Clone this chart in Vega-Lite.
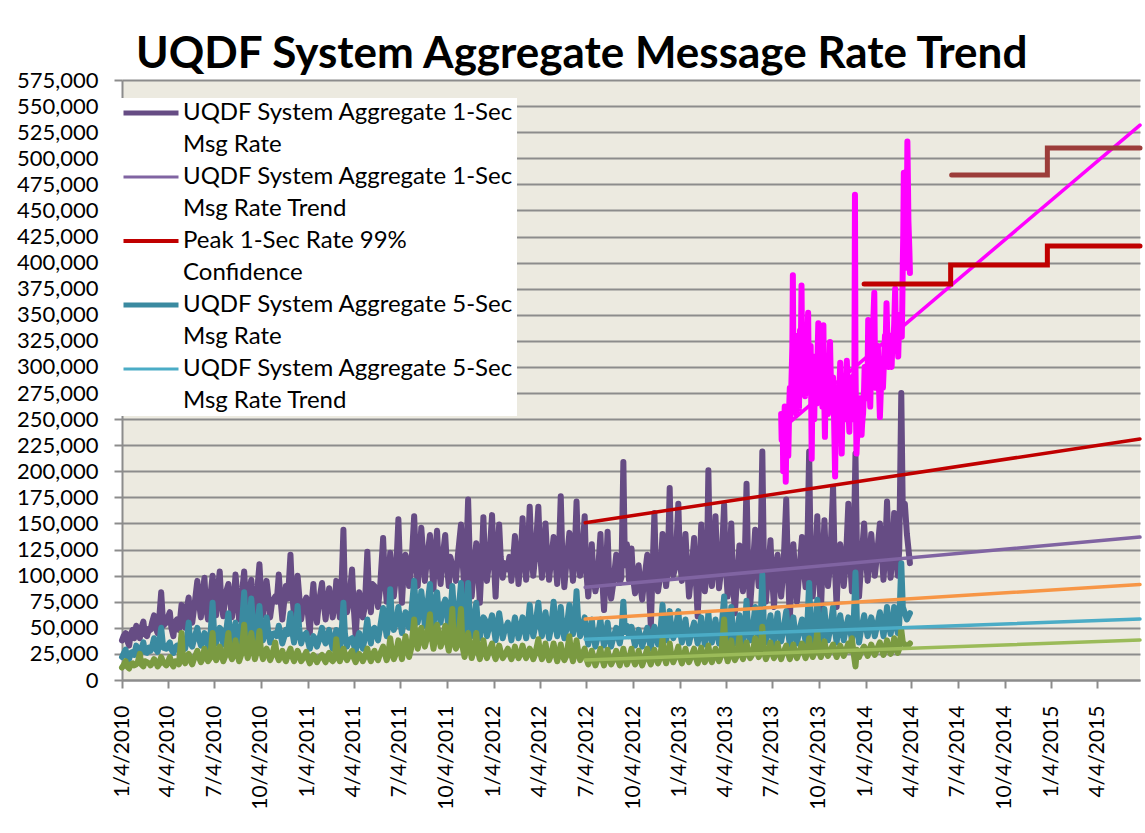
{
"$schema": "https://vega.github.io/schema/vega-lite/v6.json",
"width": 1018, "height": 600,
"autosize": "none",
"padding": {"left": 122, "top": 80, "right": 5, "bottom": 153},
"background": "white",
"config": {"font": "Lato", "view": {"fill": "#ECEAE0", "stroke": null}},
"title": {"text": "UQDF System Aggregate Message Rate Trend", "font": "Lato", "fontSize": 44, "fontWeight": "bold", "color": "black", "anchor": "start", "frame": "group", "dx": 14, "dy": 43, "baseline": "alphabetic", "offset": 0},
"datasets": {
"wide": [
{"d":"2010-01-04","A":38000,"C":22000,"E":12000},{"d":"2010-01-11","A":45000,"C":29000,"E":18000},{"d":"2010-01-18","A":33000,"C":20000,"E":11000},{"d":"2010-01-25","A":48000,"C":27000,"E":16000},
{"d":"2010-02-01","A":52000,"C":33000,"E":15000},{"d":"2010-02-08","A":40000,"C":24000,"E":25000},{"d":"2010-02-15","A":56000,"C":36000,"E":13000},{"d":"2010-02-22","A":42000,"C":26000,"E":17000},
{"d":"2010-03-01","A":48000,"C":28000,"E":14000},{"d":"2010-03-08","A":62000,"C":40000,"E":20000},{"d":"2010-03-15","A":45000,"C":27000,"E":13000},{"d":"2010-03-22","A":84000,"C":50000,"E":22000},
{"d":"2010-04-01","A":55000,"C":30000,"E":14000},{"d":"2010-04-08","A":65000,"C":36000,"E":22000},{"d":"2010-04-15","A":42000,"C":26000,"E":13000},{"d":"2010-04-22","A":58000,"C":33000,"E":18000},
{"d":"2010-05-01","A":72000,"C":40000,"E":45000},{"d":"2010-05-08","A":50000,"C":30000,"E":16000},{"d":"2010-05-15","A":79000,"C":55000,"E":25000},{"d":"2010-05-22","A":55000,"C":32000,"E":15000},
{"d":"2010-06-01","A":95000,"C":50000,"E":28000},{"d":"2010-06-08","A":60000,"C":33000,"E":17000},{"d":"2010-06-15","A":98000,"C":45000,"E":30000},{"d":"2010-06-22","A":58000,"C":30000,"E":18000},
{"d":"2010-07-01","A":100000,"C":74000,"E":45000},{"d":"2010-07-08","A":62000,"C":35000,"E":19000},{"d":"2010-07-15","A":104000,"C":50000,"E":32000},{"d":"2010-07-22","A":61000,"C":34000,"E":18000},
{"d":"2010-08-01","A":92000,"C":64000,"E":45000},{"d":"2010-08-08","A":60000,"C":32000,"E":20000},{"d":"2010-08-15","A":101000,"C":55000,"E":38000},{"d":"2010-08-22","A":58000,"C":35000,"E":18000},
{"d":"2010-09-01","A":104000,"C":84000,"E":53000},{"d":"2010-09-08","A":58000,"C":40000,"E":21000},{"d":"2010-09-15","A":96000,"C":78000,"E":45000},{"d":"2010-09-22","A":62000,"C":38000,"E":20000},
{"d":"2010-10-01","A":111000,"C":71000,"E":47000},{"d":"2010-10-08","A":62000,"C":38000,"E":20000},{"d":"2010-10-15","A":95000,"C":60000,"E":30000},{"d":"2010-10-22","A":60000,"C":36000,"E":19000},
{"d":"2010-11-01","A":80000,"C":45000,"E":36000},{"d":"2010-11-08","A":101000,"C":52000,"E":19000},{"d":"2010-11-15","A":58000,"C":35000,"E":28000},{"d":"2010-11-22","A":90000,"C":48000,"E":18000},
{"d":"2010-12-01","A":120000,"C":64000,"E":30000},{"d":"2010-12-08","A":62000,"C":36000,"E":18000},{"d":"2010-12-15","A":100000,"C":71000,"E":28000},{"d":"2010-12-22","A":58000,"C":35000,"E":18000},
{"d":"2011-01-01","A":79000,"C":45000,"E":27000},{"d":"2011-01-08","A":45000,"C":30000,"E":16000},{"d":"2011-01-15","A":92000,"C":42000,"E":24000},{"d":"2011-01-22","A":55000,"C":32000,"E":17000},
{"d":"2011-02-01","A":93000,"C":50000,"E":24000},{"d":"2011-02-08","A":58000,"C":35000,"E":17000},{"d":"2011-02-15","A":88000,"C":48000,"E":26000},{"d":"2011-02-22","A":60000,"C":30000,"E":18000},
{"d":"2011-03-01","A":95000,"C":48000,"E":39000},{"d":"2011-03-08","A":60000,"C":30000,"E":18000},{"d":"2011-03-15","A":144000,"C":74000,"E":30000},{"d":"2011-03-22","A":65000,"C":32000,"E":19000},
{"d":"2011-04-01","A":106000,"C":40000,"E":28000},{"d":"2011-04-08","A":42000,"C":26000,"E":17000},{"d":"2011-04-15","A":84000,"C":45000,"E":25000},{"d":"2011-04-22","A":60000,"C":30000,"E":18000},
{"d":"2011-05-01","A":123000,"C":58000,"E":30000},{"d":"2011-05-08","A":65000,"C":35000,"E":18000},{"d":"2011-05-15","A":90000,"C":50000,"E":28000},{"d":"2011-05-22","A":70000,"C":38000,"E":19000},
{"d":"2011-06-01","A":136000,"C":69000,"E":32000},{"d":"2011-06-08","A":75000,"C":42000,"E":19000},{"d":"2011-06-15","A":122000,"C":87000,"E":40000},{"d":"2011-06-22","A":80000,"C":48000,"E":20000},
{"d":"2011-07-01","A":154000,"C":70000,"E":38000},{"d":"2011-07-08","A":74000,"C":45000,"E":20000},{"d":"2011-07-15","A":120000,"C":65000,"E":42000},{"d":"2011-07-22","A":90000,"C":50000,"E":22000},
{"d":"2011-08-01","A":157000,"C":95000,"E":58000},{"d":"2011-08-08","A":90000,"C":55000,"E":30000},{"d":"2011-08-15","A":146000,"C":85000,"E":50000},{"d":"2011-08-22","A":95000,"C":52000,"E":32000},
{"d":"2011-09-01","A":139000,"C":92000,"E":63000},{"d":"2011-09-08","A":87000,"C":50000,"E":30000},{"d":"2011-09-15","A":143000,"C":84000,"E":53000},{"d":"2011-09-22","A":92000,"C":55000,"E":32000},
{"d":"2011-10-01","A":139000,"C":77000,"E":52000},{"d":"2011-10-08","A":90000,"C":48000,"E":28000},{"d":"2011-10-15","A":110000,"C":90000,"E":68000},{"d":"2011-10-22","A":95000,"C":52000,"E":30000},
{"d":"2011-11-01","A":149000,"C":93000,"E":68000},{"d":"2011-11-08","A":85000,"C":45000,"E":22000},{"d":"2011-11-15","A":173000,"C":93000,"E":45000},{"d":"2011-11-22","A":80000,"C":42000,"E":21000},
{"d":"2011-12-01","A":131000,"C":74000,"E":45000},{"d":"2011-12-08","A":74000,"C":40000,"E":20000},{"d":"2011-12-15","A":156000,"C":60000,"E":38000},{"d":"2011-12-22","A":95000,"C":42000,"E":21000},
{"d":"2012-01-01","A":158000,"C":62000,"E":35000},{"d":"2012-01-08","A":80000,"C":38000,"E":20000},{"d":"2012-01-15","A":149000,"C":64000,"E":33000},{"d":"2012-01-22","A":98000,"C":40000,"E":21000},
{"d":"2012-02-01","A":106000,"C":55000,"E":30000},{"d":"2012-02-08","A":95000,"C":38000,"E":20000},{"d":"2012-02-15","A":138000,"C":60000,"E":32000},{"d":"2012-02-22","A":92000,"C":40000,"E":21000},
{"d":"2012-03-01","A":155000,"C":60000,"E":33000},{"d":"2012-03-08","A":96000,"C":40000,"E":21000},{"d":"2012-03-15","A":166000,"C":72000,"E":30000},{"d":"2012-03-22","A":100000,"C":42000,"E":20000},
{"d":"2012-04-01","A":166000,"C":74000,"E":39000},{"d":"2012-04-08","A":98000,"C":42000,"E":20000},{"d":"2012-04-15","A":150000,"C":65000,"E":35000},{"d":"2012-04-22","A":96000,"C":40000,"E":19000},
{"d":"2012-05-01","A":137000,"C":75000,"E":35000},{"d":"2012-05-08","A":92000,"C":42000,"E":18000},{"d":"2012-05-15","A":176000,"C":70000,"E":34000},{"d":"2012-05-22","A":89000,"C":40000,"E":19000},
{"d":"2012-06-01","A":141000,"C":72000,"E":42000},{"d":"2012-06-08","A":95000,"C":44000,"E":18000},{"d":"2012-06-15","A":171000,"C":85000,"E":38000},{"d":"2012-06-22","A":100000,"C":42000,"E":19000},
{"d":"2012-07-01","A":157000,"C":60000,"E":30000},{"d":"2012-07-08","A":80000,"C":34000,"E":15000},{"d":"2012-07-15","A":130000,"C":58000,"E":28000},{"d":"2012-07-22","A":85000,"C":32000,"E":14000},
{"d":"2012-08-01","A":140000,"C":58000,"E":30000},{"d":"2012-08-08","A":67000,"C":33000,"E":14000},{"d":"2012-08-15","A":142000,"C":55000,"E":29000},{"d":"2012-08-22","A":78000,"C":32000,"E":15000},
{"d":"2012-09-01","A":120000,"C":50000,"E":28000},{"d":"2012-09-08","A":93000,"C":35000,"E":14000},{"d":"2012-09-15","A":209000,"C":75000,"E":30000},{"d":"2012-09-22","A":130000,"C":52000,"E":15000},
{"d":"2012-10-01","A":126000,"C":51000,"E":30000},{"d":"2012-10-08","A":83000,"C":33000,"E":15000},{"d":"2012-10-15","A":110000,"C":48000,"E":28000},{"d":"2012-10-22","A":77000,"C":32000,"E":14000},
{"d":"2012-11-01","A":120000,"C":50000,"E":30000},{"d":"2012-11-08","A":51000,"C":30000,"E":15000},{"d":"2012-11-15","A":160000,"C":51000,"E":29000},{"d":"2012-11-22","A":85000,"C":34000,"E":16000},
{"d":"2012-12-01","A":140000,"C":72000,"E":40000},{"d":"2012-12-08","A":90000,"C":38000,"E":16000},{"d":"2012-12-15","A":184000,"C":66000,"E":35000},{"d":"2012-12-22","A":100000,"C":40000,"E":17000},
{"d":"2013-01-01","A":169000,"C":66000,"E":32000},{"d":"2013-01-08","A":95000,"C":36000,"E":16000},{"d":"2013-01-15","A":140000,"C":58000,"E":30000},{"d":"2013-01-22","A":80000,"C":35000,"E":17000},
{"d":"2013-02-01","A":136000,"C":55000,"E":30000},{"d":"2013-02-08","A":61000,"C":35000,"E":16000},{"d":"2013-02-15","A":149000,"C":60000,"E":31000},{"d":"2013-02-22","A":85000,"C":34000,"E":17000},
{"d":"2013-03-01","A":201000,"C":64000,"E":33000},{"d":"2013-03-08","A":90000,"C":36000,"E":17000},{"d":"2013-03-15","A":157000,"C":58000,"E":30000},{"d":"2013-03-22","A":88000,"C":35000,"E":18000},
{"d":"2013-04-01","A":168000,"C":80000,"E":58000},{"d":"2013-04-08","A":80000,"C":38000,"E":18000},{"d":"2013-04-15","A":150000,"C":70000,"E":38000},{"d":"2013-04-22","A":64000,"C":35000,"E":19000},
{"d":"2013-05-01","A":129000,"C":62000,"E":42000},{"d":"2013-05-08","A":85000,"C":36000,"E":20000},{"d":"2013-05-15","A":188000,"C":76000,"E":36000},{"d":"2013-05-22","A":70000,"C":38000,"E":21000},
{"d":"2013-06-01","A":144000,"C":70000,"E":40000},{"d":"2013-06-08","A":90000,"C":38000,"E":22000},{"d":"2013-06-15","A":219000,"C":101000,"E":51000},{"d":"2013-06-22","A":75000,"C":36000,"E":20000},
{"d":"2013-07-01","A":134000,"C":62000,"E":36000},{"d":"2013-07-08","A":70000,"C":35000,"E":21000},{"d":"2013-07-15","A":120000,"C":64000,"E":35000},{"d":"2013-07-22","A":80000,"C":37000,"E":20000},
{"d":"2013-08-01","A":173000,"C":66000,"E":33000},{"d":"2013-08-08","A":58000,"C":34000,"E":20000},{"d":"2013-08-15","A":130000,"C":60000,"E":34000},{"d":"2013-08-22","A":75000,"C":35000,"E":21000},
{"d":"2013-09-01","A":137000,"C":58000,"E":35000},{"d":"2013-09-08","A":89000,"C":37000,"E":21000},{"d":"2013-09-15","A":219000,"C":93000,"E":40000},{"d":"2013-09-22","A":80000,"C":36000,"E":22000},
{"d":"2013-10-01","A":157000,"C":77000,"E":46000},{"d":"2013-10-08","A":64000,"C":35000,"E":22000},{"d":"2013-10-15","A":153000,"C":68000,"E":37000},{"d":"2013-10-22","A":90000,"C":38000,"E":23000},
{"d":"2013-11-01","A":185000,"C":70000,"E":34000},{"d":"2013-11-08","A":70000,"C":36000,"E":22000},{"d":"2013-11-15","A":130000,"C":62000,"E":33000},{"d":"2013-11-22","A":90000,"C":38000,"E":23000},
{"d":"2013-12-01","A":169000,"C":60000,"E":35000},{"d":"2013-12-08","A":85000,"C":38000,"E":40000},{"d":"2013-12-15","A":217000,"C":103000,"E":13000},{"d":"2013-12-22","A":80000,"C":36000,"E":22000},
{"d":"2014-01-01","A":150000,"C":62000,"E":32000},{"d":"2014-01-08","A":95000,"C":42000,"E":23000},{"d":"2014-01-15","A":140000,"C":60000,"E":34000},{"d":"2014-01-22","A":100000,"C":42000,"E":24000},
{"d":"2014-02-01","A":150000,"C":65000,"E":36000},{"d":"2014-02-08","A":96000,"C":42000,"E":24000},{"d":"2014-02-15","A":171000,"C":70000,"E":38000},{"d":"2014-02-22","A":98000,"C":44000,"E":25000},
{"d":"2014-03-01","A":160000,"C":70000,"E":40000},{"d":"2014-03-08","A":100000,"C":45000,"E":26000},{"d":"2014-03-15","A":275000,"C":112000,"E":48000},{"d":"2014-03-22","A":169000,"C":64000,"E":34000},
{"d":"2014-04-01","A":112000,"C":64000,"E":35000},
{"d":"2010-01-07","A":42000,"C":25000,"E":14000},{"d":"2010-01-14","A":38000,"C":23000,"E":13000},{"d":"2010-01-21","A":44000,"C":26000,"E":15000},{"d":"2010-01-28","A":40000,"C":24000,"E":14000},
{"d":"2010-02-04","A":46000,"C":28000,"E":17000},{"d":"2010-02-11","A":50000,"C":30000,"E":15000},{"d":"2010-02-18","A":44000,"C":27000,"E":18000},{"d":"2010-02-26","A":49000,"C":31000,"E":16000},
{"d":"2010-03-04","A":55000,"C":32000,"E":16000},{"d":"2010-03-11","A":50000,"C":30000,"E":18000},{"d":"2010-03-18","A":58000,"C":35000,"E":15000},{"d":"2010-03-26","A":52000,"C":31000,"E":17000},
{"d":"2010-04-04","A":60000,"C":33000,"E":17000},{"d":"2010-04-11","A":50000,"C":29000,"E":16000},{"d":"2010-04-18","A":55000,"C":31000,"E":18000},{"d":"2010-04-26","A":48000,"C":28000,"E":15000},
{"d":"2010-05-04","A":62000,"C":35000,"E":20000},{"d":"2010-05-11","A":68000,"C":38000,"E":22000},{"d":"2010-05-18","A":60000,"C":36000,"E":19000},{"d":"2010-05-26","A":70000,"C":40000,"E":21000},
{"d":"2010-06-04","A":75000,"C":40000,"E":22000},{"d":"2010-06-11","A":82000,"C":38000,"E":20000},{"d":"2010-06-18","A":70000,"C":42000,"E":23000},{"d":"2010-06-26","A":78000,"C":37000,"E":21000},
{"d":"2010-07-04","A":80000,"C":45000,"E":24000},{"d":"2010-07-11","A":85000,"C":42000,"E":22000},{"d":"2010-07-18","A":75000,"C":48000,"E":26000},{"d":"2010-07-26","A":82000,"C":40000,"E":23000},
{"d":"2010-08-04","A":78000,"C":45000,"E":25000},{"d":"2010-08-11","A":72000,"C":40000,"E":23000},{"d":"2010-08-18","A":84000,"C":48000,"E":28000},{"d":"2010-08-26","A":75000,"C":42000,"E":24000},
{"d":"2010-09-04","A":80000,"C":55000,"E":30000},{"d":"2010-09-11","A":85000,"C":50000,"E":28000},{"d":"2010-09-18","A":75000,"C":58000,"E":32000},{"d":"2010-09-26","A":82000,"C":48000,"E":27000},
{"d":"2010-10-04","A":85000,"C":50000,"E":28000},{"d":"2010-10-11","A":78000,"C":45000,"E":26000},{"d":"2010-10-18","A":82000,"C":48000,"E":25000},{"d":"2010-10-26","A":75000,"C":44000,"E":24000},
{"d":"2010-11-04","A":75000,"C":42000,"E":24000},{"d":"2010-11-11","A":80000,"C":45000,"E":23000},{"d":"2010-11-18","A":72000,"C":40000,"E":22000},{"d":"2010-11-26","A":78000,"C":44000,"E":24000},
{"d":"2010-12-04","A":85000,"C":48000,"E":23000},{"d":"2010-12-11","A":78000,"C":44000,"E":22000},{"d":"2010-12-18","A":82000,"C":50000,"E":24000},{"d":"2010-12-26","A":72000,"C":42000,"E":21000},
{"d":"2011-01-04","A":65000,"C":38000,"E":21000},{"d":"2011-01-11","A":70000,"C":36000,"E":20000},{"d":"2011-01-18","A":68000,"C":40000,"E":22000},{"d":"2011-01-26","A":75000,"C":38000,"E":21000},
{"d":"2011-02-04","A":75000,"C":40000,"E":21000},{"d":"2011-02-11","A":72000,"C":42000,"E":22000},{"d":"2011-02-18","A":78000,"C":38000,"E":20000},{"d":"2011-02-26","A":74000,"C":40000,"E":21000},
{"d":"2011-03-04","A":78000,"C":40000,"E":24000},{"d":"2011-03-11","A":85000,"C":42000,"E":22000},{"d":"2011-03-18","A":80000,"C":44000,"E":25000},{"d":"2011-03-26","A":76000,"C":38000,"E":23000},
{"d":"2011-04-04","A":72000,"C":35000,"E":22000},{"d":"2011-04-11","A":65000,"C":38000,"E":21000},{"d":"2011-04-18","A":75000,"C":36000,"E":23000},{"d":"2011-04-26","A":70000,"C":40000,"E":22000},
{"d":"2011-05-04","A":85000,"C":45000,"E":23000},{"d":"2011-05-11","A":92000,"C":48000,"E":24000},{"d":"2011-05-18","A":82000,"C":44000,"E":22000},{"d":"2011-05-26","A":88000,"C":50000,"E":25000},
{"d":"2011-06-04","A":100000,"C":55000,"E":26000},{"d":"2011-06-11","A":95000,"C":52000,"E":24000},{"d":"2011-06-18","A":105000,"C":60000,"E":28000},{"d":"2011-06-26","A":98000,"C":54000,"E":25000},
{"d":"2011-07-04","A":110000,"C":58000,"E":30000},{"d":"2011-07-11","A":100000,"C":55000,"E":28000},{"d":"2011-07-18","A":115000,"C":60000,"E":32000},{"d":"2011-07-26","A":105000,"C":62000,"E":30000},
{"d":"2011-08-04","A":120000,"C":70000,"E":40000},{"d":"2011-08-11","A":112000,"C":65000,"E":38000},{"d":"2011-08-18","A":125000,"C":72000,"E":42000},{"d":"2011-08-26","A":115000,"C":68000,"E":40000},
{"d":"2011-09-04","A":115000,"C":68000,"E":42000},{"d":"2011-09-11","A":120000,"C":72000,"E":40000},{"d":"2011-09-18","A":110000,"C":65000,"E":45000},{"d":"2011-09-26","A":118000,"C":70000,"E":38000},
{"d":"2011-10-04","A":112000,"C":65000,"E":38000},{"d":"2011-10-11","A":118000,"C":62000,"E":40000},{"d":"2011-10-18","A":108000,"C":68000,"E":36000},{"d":"2011-10-26","A":120000,"C":60000,"E":35000},
{"d":"2011-11-04","A":115000,"C":62000,"E":32000},{"d":"2011-11-11","A":110000,"C":58000,"E":30000},{"d":"2011-11-18","A":120000,"C":64000,"E":34000},{"d":"2011-11-26","A":105000,"C":55000,"E":28000},
{"d":"2011-12-04","A":110000,"C":55000,"E":28000},{"d":"2011-12-11","A":105000,"C":52000,"E":26000},{"d":"2011-12-18","A":115000,"C":58000,"E":29000},{"d":"2011-12-26","A":112000,"C":50000,"E":27000},
{"d":"2012-01-04","A":120000,"C":52000,"E":26000},{"d":"2012-01-11","A":115000,"C":50000,"E":25000},{"d":"2012-01-18","A":118000,"C":54000,"E":27000},{"d":"2012-01-26","A":112000,"C":48000,"E":24000},
{"d":"2012-02-04","A":118000,"C":50000,"E":25000},{"d":"2012-02-11","A":112000,"C":48000,"E":24000},{"d":"2012-02-18","A":120000,"C":52000,"E":26000},{"d":"2012-02-26","A":115000,"C":50000,"E":25000},
{"d":"2012-03-04","A":122000,"C":52000,"E":26000},{"d":"2012-03-11","A":118000,"C":50000,"E":25000},{"d":"2012-03-18","A":125000,"C":55000,"E":27000},{"d":"2012-03-26","A":120000,"C":52000,"E":25000},
{"d":"2012-04-04","A":125000,"C":55000,"E":27000},{"d":"2012-04-11","A":118000,"C":52000,"E":25000},{"d":"2012-04-18","A":122000,"C":54000,"E":26000},{"d":"2012-04-26","A":115000,"C":50000,"E":24000},
{"d":"2012-05-04","A":118000,"C":55000,"E":26000},{"d":"2012-05-11","A":115000,"C":50000,"E":24000},{"d":"2012-05-18","A":120000,"C":52000,"E":25000},{"d":"2012-05-26","A":112000,"C":48000,"E":23000},
{"d":"2012-06-04","A":120000,"C":55000,"E":26000},{"d":"2012-06-11","A":115000,"C":52000,"E":25000},{"d":"2012-06-18","A":125000,"C":58000,"E":28000},{"d":"2012-06-26","A":118000,"C":50000,"E":24000},
{"d":"2012-07-04","A":105000,"C":45000,"E":21000},{"d":"2012-07-11","A":98000,"C":42000,"E":20000},{"d":"2012-07-18","A":102000,"C":44000,"E":22000},{"d":"2012-07-26","A":95000,"C":40000,"E":19000},
{"d":"2012-08-04","A":100000,"C":44000,"E":21000},{"d":"2012-08-11","A":95000,"C":40000,"E":20000},{"d":"2012-08-18","A":98000,"C":42000,"E":21000},{"d":"2012-08-26","A":92000,"C":40000,"E":19000},
{"d":"2012-09-04","A":102000,"C":42000,"E":20000},{"d":"2012-09-11","A":98000,"C":44000,"E":21000},{"d":"2012-09-18","A":110000,"C":46000,"E":22000},{"d":"2012-09-26","A":96000,"C":42000,"E":20000},
{"d":"2012-10-04","A":98000,"C":42000,"E":20000},{"d":"2012-10-11","A":95000,"C":40000,"E":19000},{"d":"2012-10-18","A":92000,"C":42000,"E":21000},{"d":"2012-10-26","A":96000,"C":40000,"E":20000},
{"d":"2012-11-04","A":90000,"C":40000,"E":20000},{"d":"2012-11-11","A":100000,"C":42000,"E":21000},{"d":"2012-11-18","A":105000,"C":44000,"E":22000},{"d":"2012-11-26","A":98000,"C":42000,"E":21000},
{"d":"2012-12-04","A":110000,"C":48000,"E":23000},{"d":"2012-12-11","A":105000,"C":45000,"E":22000},{"d":"2012-12-18","A":115000,"C":50000,"E":24000},{"d":"2012-12-26","A":108000,"C":46000,"E":22000},
{"d":"2013-01-04","A":115000,"C":48000,"E":22000},{"d":"2013-01-11","A":108000,"C":45000,"E":21000},{"d":"2013-01-18","A":112000,"C":46000,"E":23000},{"d":"2013-01-26","A":100000,"C":44000,"E":22000},
{"d":"2013-02-04","A":100000,"C":45000,"E":22000},{"d":"2013-02-11","A":95000,"C":44000,"E":21000},{"d":"2013-02-18","A":110000,"C":46000,"E":23000},{"d":"2013-02-26","A":102000,"C":45000,"E":22000},
{"d":"2013-03-04","A":120000,"C":48000,"E":23000},{"d":"2013-03-11","A":110000,"C":45000,"E":22000},{"d":"2013-03-18","A":115000,"C":47000,"E":24000},{"d":"2013-03-26","A":105000,"C":44000,"E":23000},
{"d":"2013-04-04","A":110000,"C":50000,"E":26000},{"d":"2013-04-11","A":105000,"C":46000,"E":24000},{"d":"2013-04-18","A":100000,"C":48000,"E":25000},{"d":"2013-04-26","A":95000,"C":44000,"E":23000},
{"d":"2013-05-04","A":100000,"C":48000,"E":26000},{"d":"2013-05-11","A":105000,"C":46000,"E":25000},{"d":"2013-05-18","A":110000,"C":50000,"E":27000},{"d":"2013-05-26","A":98000,"C":45000,"E":24000},
{"d":"2013-06-04","A":110000,"C":50000,"E":27000},{"d":"2013-06-11","A":105000,"C":48000,"E":26000},{"d":"2013-06-18","A":115000,"C":52000,"E":28000},{"d":"2013-06-26","A":100000,"C":46000,"E":25000},
{"d":"2013-07-04","A":100000,"C":46000,"E":26000},{"d":"2013-07-11","A":105000,"C":48000,"E":25000},{"d":"2013-07-18","A":98000,"C":45000,"E":27000},{"d":"2013-07-26","A":102000,"C":47000,"E":26000},
{"d":"2013-08-04","A":110000,"C":48000,"E":26000},{"d":"2013-08-11","A":95000,"C":45000,"E":25000},{"d":"2013-08-18","A":105000,"C":47000,"E":27000},{"d":"2013-08-26","A":100000,"C":46000,"E":26000},
{"d":"2013-09-04","A":108000,"C":47000,"E":27000},{"d":"2013-09-11","A":112000,"C":48000,"E":26000},{"d":"2013-09-18","A":115000,"C":52000,"E":28000},{"d":"2013-09-26","A":105000,"C":46000,"E":27000},
{"d":"2013-10-04","A":112000,"C":50000,"E":28000},{"d":"2013-10-11","A":105000,"C":47000,"E":27000},{"d":"2013-10-18","A":115000,"C":51000,"E":29000},{"d":"2013-10-26","A":110000,"C":48000,"E":28000},
{"d":"2013-11-04","A":115000,"C":50000,"E":28000},{"d":"2013-11-11","A":110000,"C":48000,"E":27000},{"d":"2013-11-18","A":118000,"C":52000,"E":29000},{"d":"2013-11-26","A":112000,"C":49000,"E":28000},
{"d":"2013-12-04","A":118000,"C":50000,"E":28000},{"d":"2013-12-11","A":112000,"C":48000,"E":27000},{"d":"2013-12-18","A":120000,"C":55000,"E":29000},{"d":"2013-12-26","A":110000,"C":48000,"E":27000},
{"d":"2014-01-04","A":120000,"C":52000,"E":29000},{"d":"2014-01-11","A":115000,"C":50000,"E":28000},{"d":"2014-01-18","A":122000,"C":54000,"E":30000},{"d":"2014-01-26","A":118000,"C":51000,"E":29000},
{"d":"2014-02-04","A":125000,"C":55000,"E":30000},{"d":"2014-02-11","A":118000,"C":52000,"E":29000},{"d":"2014-02-18","A":128000,"C":56000,"E":31000},{"d":"2014-02-26","A":120000,"C":54000,"E":30000},
{"d":"2014-03-04","A":130000,"C":56000,"E":31000},{"d":"2014-03-11","A":125000,"C":54000,"E":30000},{"d":"2014-03-18","A":160000,"C":70000,"E":36000},{"d":"2014-03-26","A":140000,"C":58000,"E":32000}
],
"magenta": [
{"d":"2013-07-22","s":"M","v":255000},{"d":"2013-07-24","s":"M","v":240000},{"d":"2013-07-26","s":"M","v":200000},{"d":"2013-07-29","s":"M","v":262000},{"d":"2013-07-31","s":"M","v":190000},{"d":"2013-08-02","s":"M","v":245000},{"d":"2013-08-05","s":"M","v":215000},{"d":"2013-08-07","s":"M","v":265000},{"d":"2013-08-09","s":"M","v":250000},{"d":"2013-08-12","s":"M","v":300000},{"d":"2013-08-14","s":"M","v":388000},{"d":"2013-08-16","s":"M","v":280000},{"d":"2013-08-19","s":"M","v":330000},{"d":"2013-08-21","s":"M","v":255000},{"d":"2013-08-23","s":"M","v":320000},{"d":"2013-08-26","s":"M","v":260000},{"d":"2013-08-28","s":"M","v":335000},{"d":"2013-08-31","s":"M","v":378000},{"d":"2013-09-03","s":"M","v":290000},{"d":"2013-09-05","s":"M","v":330000},{"d":"2013-09-07","s":"M","v":272000},{"d":"2013-09-10","s":"M","v":300000},{"d":"2013-09-13","s":"M","v":352000},{"d":"2013-09-16","s":"M","v":290000},{"d":"2013-09-18","s":"M","v":320000},{"d":"2013-09-20","s":"M","v":212000},{"d":"2013-09-23","s":"M","v":280000},{"d":"2013-09-25","s":"M","v":250000},{"d":"2013-09-27","s":"M","v":310000},{"d":"2013-09-30","s":"M","v":265000},{"d":"2013-10-03","s":"M","v":342000},{"d":"2013-10-06","s":"M","v":280000},{"d":"2013-10-09","s":"M","v":330000},{"d":"2013-10-11","s":"M","v":262000},{"d":"2013-10-13","s":"M","v":340000},{"d":"2013-10-16","s":"M","v":233000},{"d":"2013-10-19","s":"M","v":300000},{"d":"2013-10-22","s":"M","v":255000},{"d":"2013-10-26","s":"M","v":324000},{"d":"2013-10-29","s":"M","v":270000},{"d":"2013-11-01","s":"M","v":290000},{"d":"2013-11-05","s":"M","v":195000},{"d":"2013-11-08","s":"M","v":280000},{"d":"2013-11-11","s":"M","v":240000},{"d":"2013-11-15","s":"M","v":304000},{"d":"2013-11-18","s":"M","v":217000},{"d":"2013-11-21","s":"M","v":290000},{"d":"2013-11-24","s":"M","v":250000},{"d":"2013-11-28","s":"M","v":306000},{"d":"2013-12-01","s":"M","v":260000},{"d":"2013-12-03","s":"M","v":238000},{"d":"2013-12-06","s":"M","v":290000},{"d":"2013-12-09","s":"M","v":250000},{"d":"2013-12-12","s":"M","v":280000},{"d":"2013-12-14","s":"M","v":465000},{"d":"2013-12-17","s":"M","v":217000},{"d":"2013-12-20","s":"M","v":240000},{"d":"2013-12-24","s":"M","v":270000},{"d":"2013-12-27","s":"M","v":235000},{"d":"2013-12-30","s":"M","v":256000},{"d":"2014-01-02","s":"M","v":300000},{"d":"2014-01-06","s":"M","v":270000},{"d":"2014-01-09","s":"M","v":345000},{"d":"2014-01-13","s":"M","v":262000},{"d":"2014-01-16","s":"M","v":310000},{"d":"2014-01-21","s":"M","v":371000},{"d":"2014-01-24","s":"M","v":280000},{"d":"2014-01-28","s":"M","v":320000},{"d":"2014-02-01","s":"M","v":252000},{"d":"2014-02-04","s":"M","v":300000},{"d":"2014-02-07","s":"M","v":280000},{"d":"2014-02-11","s":"M","v":330000},{"d":"2014-02-14","s":"M","v":361000},{"d":"2014-02-18","s":"M","v":300000},{"d":"2014-02-21","s":"M","v":330000},{"d":"2014-02-24","s":"M","v":300000},{"d":"2014-02-27","s":"M","v":320000},{"d":"2014-03-03","s":"M","v":375000},{"d":"2014-03-06","s":"M","v":320000},{"d":"2014-03-09","s":"M","v":310000},{"d":"2014-03-12","s":"M","v":350000},{"d":"2014-03-16","s":"M","v":329000},{"d":"2014-03-18","s":"M","v":400000},{"d":"2014-03-20","s":"M","v":486000},{"d":"2014-03-23","s":"M","v":420000},{"d":"2014-03-25","s":"M","v":395000},{"d":"2014-03-27","s":"M","v":516000},{"d":"2014-03-29","s":"M","v":440000},{"d":"2014-04-01","s":"M","v":390000},
{"d":"2013-07-23","s":"M","v":230000},{"d":"2013-07-25","s":"M","v":250000},{"d":"2013-07-27","s":"M","v":230000},{"d":"2013-07-30","s":"M","v":240000},{"d":"2013-08-01","s":"M","v":225000},{"d":"2013-08-03","s":"M","v":260000},{"d":"2013-08-06","s":"M","v":240000},{"d":"2013-08-08","s":"M","v":280000},{"d":"2013-08-10","s":"M","v":265000},{"d":"2013-08-13","s":"M","v":320000},{"d":"2013-08-15","s":"M","v":300000},{"d":"2013-08-17","s":"M","v":310000},{"d":"2013-08-20","s":"M","v":290000},{"d":"2013-08-22","s":"M","v":300000},{"d":"2013-08-24","s":"M","v":280000},{"d":"2013-08-27","s":"M","v":300000},{"d":"2013-08-29","s":"M","v":290000},{"d":"2013-09-01","s":"M","v":320000},{"d":"2013-09-04","s":"M","v":310000},{"d":"2013-09-06","s":"M","v":300000},{"d":"2013-09-08","s":"M","v":290000},{"d":"2013-09-11","s":"M","v":320000},{"d":"2013-09-14","s":"M","v":300000},{"d":"2013-09-17","s":"M","v":305000},{"d":"2013-09-19","s":"M","v":270000},{"d":"2013-09-21","s":"M","v":260000},{"d":"2013-09-24","s":"M","v":295000},{"d":"2013-09-26","s":"M","v":280000},{"d":"2013-09-28","s":"M","v":290000},{"d":"2013-10-01","s":"M","v":300000},{"d":"2013-10-04","s":"M","v":300000},{"d":"2013-10-07","s":"M","v":310000},{"d":"2013-10-10","s":"M","v":290000},{"d":"2013-10-12","s":"M","v":300000},{"d":"2013-10-14","s":"M","v":290000},{"d":"2013-10-17","s":"M","v":270000},{"d":"2013-10-20","s":"M","v":280000},{"d":"2013-10-24","s":"M","v":290000},{"d":"2013-10-27","s":"M","v":300000},{"d":"2013-10-31","s":"M","v":280000},{"d":"2013-11-03","s":"M","v":250000},{"d":"2013-11-06","s":"M","v":240000},{"d":"2013-11-09","s":"M","v":260000},{"d":"2013-11-13","s":"M","v":270000},{"d":"2013-11-16","s":"M","v":260000},{"d":"2013-11-19","s":"M","v":250000},{"d":"2013-11-22","s":"M","v":270000},{"d":"2013-11-26","s":"M","v":280000},{"d":"2013-11-30","s":"M","v":275000},{"d":"2013-12-02","s":"M","v":250000},{"d":"2013-12-04","s":"M","v":265000},{"d":"2013-12-07","s":"M","v":270000},{"d":"2013-12-10","s":"M","v":265000},{"d":"2013-12-13","s":"M","v":300000},{"d":"2013-12-15","s":"M","v":300000},{"d":"2013-12-18","s":"M","v":230000},{"d":"2013-12-22","s":"M","v":255000},{"d":"2013-12-26","s":"M","v":250000},{"d":"2013-12-28","s":"M","v":245000},{"d":"2014-01-01","s":"M","v":280000},{"d":"2014-01-04","s":"M","v":290000},{"d":"2014-01-08","s":"M","v":300000},{"d":"2014-01-11","s":"M","v":290000},{"d":"2014-01-14","s":"M","v":285000},{"d":"2014-01-18","s":"M","v":330000},{"d":"2014-01-22","s":"M","v":320000},{"d":"2014-01-26","s":"M","v":300000},{"d":"2014-01-30","s":"M","v":285000},{"d":"2014-02-03","s":"M","v":280000},{"d":"2014-02-05","s":"M","v":290000},{"d":"2014-02-09","s":"M","v":305000},{"d":"2014-02-12","s":"M","v":315000},{"d":"2014-02-16","s":"M","v":320000},{"d":"2014-02-19","s":"M","v":315000},{"d":"2014-02-22","s":"M","v":310000},{"d":"2014-02-25","s":"M","v":315000},{"d":"2014-03-01","s":"M","v":340000},{"d":"2014-03-04","s":"M","v":340000},{"d":"2014-03-07","s":"M","v":330000},{"d":"2014-03-10","s":"M","v":330000},{"d":"2014-03-14","s":"M","v":340000},{"d":"2014-03-17","s":"M","v":360000},{"d":"2014-03-19","s":"M","v":430000},{"d":"2014-03-21","s":"M","v":450000},{"d":"2014-03-24","s":"M","v":410000},{"d":"2014-03-26","s":"M","v":450000},{"d":"2014-03-28","s":"M","v":480000},{"d":"2014-03-31","s":"M","v":410000}
],
"trends": [
{"d":"2012-07-02","s":"B","v":88800},{"d":"2015-06-27","s":"B","v":137000},
{"d":"2012-07-02","s":"R","v":150700},{"d":"2015-06-27","s":"R","v":231000},
{"d":"2012-07-02","s":"O","v":58400},{"d":"2015-06-27","s":"O","v":91500},
{"d":"2012-07-02","s":"D","v":39000},{"d":"2015-06-27","s":"D","v":58400},
{"d":"2012-07-02","s":"F","v":19200},{"d":"2015-06-27","s":"F","v":38300},
{"d":"2013-07-22","s":"MT","v":240000},{"d":"2015-06-27","s":"MT","v":531800}
],
"steps": [
{"d":"2014-01-01","s":"S1","v":379500},{"d":"2014-06-20","s":"S1","v":397700},{"d":"2014-12-27","s":"S1","v":415900},{"d":"2015-06-27","s":"S1","v":415900},
{"d":"2014-06-22","s":"S2","v":484000},{"d":"2014-12-27","s":"S2","v":509800},{"d":"2015-06-27","s":"S2","v":509800}
]
},
"encoding": {
"x": {"field": "d", "type": "temporal",
 "scale": {"type": "utc", "domain": [{"year": 2010, "month": 1, "date": 4, "utc": true}, {"year": 2015, "month": 6, "date": 27, "utc": true}]},
 "axis": {"title": null, "format": "%-m/%-d/%Y", "labelAngle": -90, "labelFont": "Lato", "labelFontSize": 21, "labelColor": "black", "labelPadding": 17, "labelOverlap": false, "labelFlush": false, "labelBound": false, "grid": false, "tickSize": 8, "tickColor": "#8c8c8c", "tickWidth": 2, "domainColor": "#8c8c8c", "domainWidth": 2,
  "values": [
   {"year":2010,"month":1,"date":4,"utc":true},{"year":2010,"month":4,"date":4,"utc":true},{"year":2010,"month":7,"date":4,"utc":true},{"year":2010,"month":10,"date":4,"utc":true},
   {"year":2011,"month":1,"date":4,"utc":true},{"year":2011,"month":4,"date":4,"utc":true},{"year":2011,"month":7,"date":4,"utc":true},{"year":2011,"month":10,"date":4,"utc":true},
   {"year":2012,"month":1,"date":4,"utc":true},{"year":2012,"month":4,"date":4,"utc":true},{"year":2012,"month":7,"date":4,"utc":true},{"year":2012,"month":10,"date":4,"utc":true},
   {"year":2013,"month":1,"date":4,"utc":true},{"year":2013,"month":4,"date":4,"utc":true},{"year":2013,"month":7,"date":4,"utc":true},{"year":2013,"month":10,"date":4,"utc":true},
   {"year":2014,"month":1,"date":4,"utc":true},{"year":2014,"month":4,"date":4,"utc":true},{"year":2014,"month":7,"date":4,"utc":true},{"year":2014,"month":10,"date":4,"utc":true},
   {"year":2015,"month":1,"date":4,"utc":true},{"year":2015,"month":4,"date":4,"utc":true}]}},
"y": {"field": "v", "type": "quantitative",
 "scale": {"domain": [0, 575000], "nice": false, "zero": true},
 "axis": {"title": null, "format": ",d", "values": [0,25000,50000,75000,100000,125000,150000,175000,200000,225000,250000,275000,300000,325000,350000,375000,400000,425000,450000,475000,500000,525000,550000,575000], "labelFont": "Lato", "labelFontSize": 22, "labelColor": "black", "labelPadding": 16, "labelOverlap": false, "labelFlush": false, "labelBound": false, "grid": true, "gridColor": "#8c8c8c", "gridWidth": 2, "tickSize": 8, "tickColor": "#8c8c8c", "tickWidth": 2, "domainColor": "#8c8c8c", "domainWidth": 2}},
"color": {"field": "s", "type": "nominal",
 "scale": {"domain": ["A","B","R","C","D","E","F","O","M","MT","S1","S2"], "range": ["#664C84","#8064A2","#C00000","#3A8AA0","#4BACC6","#7A9A41","#9BBB59","#F79646","#FF00FF","#FF00FF","#C00000","#9C3D3A"]},
 "legend": {"orient": "none", "legendX": -8, "legendY": 18, "title": null, "values": ["A","B","R","C","D"], "fillColor": "white", "padding": 3, "symbolType": "stroke", "symbolSize": 3025, "symbolStrokeWidth": 5, "symbolOffset": 22, "labelFont": "Lato", "labelFontSize": 24, "labelColor": "black", "labelOffset": 20, "labelLimit": 700, "rowPadding": 8,
  "labelExpr": "datum.value === 'A' ? ['UQDF System Aggregate 1-Sec', 'Msg Rate'] : datum.value === 'B' ? ['UQDF System Aggregate 1-Sec', 'Msg Rate Trend'] : datum.value === 'R' ? ['Peak 1-Sec Rate 99%', 'Confidence'] : datum.value === 'C' ? ['UQDF System Aggregate 5-Sec', 'Msg Rate'] : ['UQDF System Aggregate 5-Sec', 'Msg Rate Trend']",
  "encode": {"labels": {"update": {"lineHeight": {"value": 31.5}}}, "symbols": {"update": {"strokeWidth": {"signal": "datum.value === 'B' || datum.value === 'D' ? 3 : (datum.value === 'R' ? 4 : 5)"}}}}}}
},
"layer": [
{"data": {"name": "wide"}, "transform": [{"fold": ["A", "C", "E"], "as": ["s", "v"]}], "mark": {"type": "line", "strokeWidth": 6, "strokeCap": "round", "strokeJoin": "round"}},
{"data": {"name": "trends"}, "mark": {"type": "line", "strokeWidth": 3.5, "strokeCap": "round"}},
{"data": {"name": "magenta"}, "mark": {"type": "line", "strokeWidth": 6, "strokeCap": "round", "strokeJoin": "round"}},
{"data": {"name": "steps"}, "mark": {"type": "line", "strokeWidth": 5, "interpolate": "step-after", "strokeCap": "round"}}
]
}
